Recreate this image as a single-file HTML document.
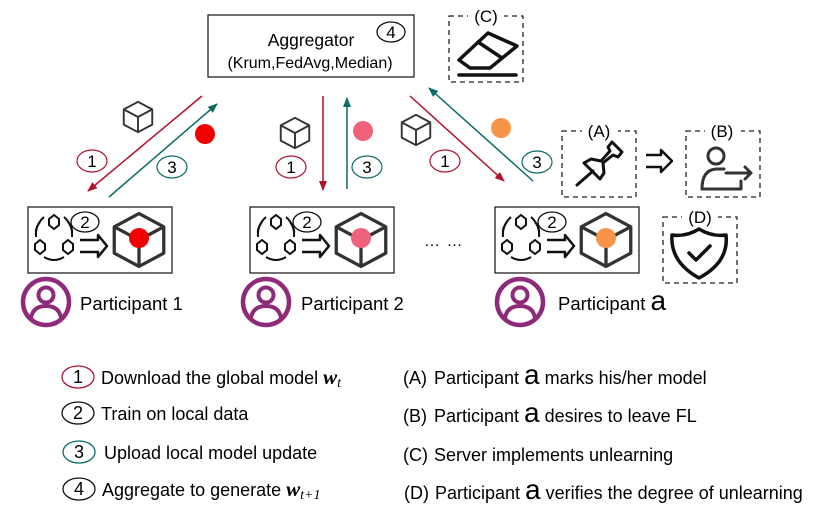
<!DOCTYPE html>
<html><head><meta charset="utf-8"><style>
html,body{margin:0;padding:0;background:#fff;}
svg{display:block;font-family:"Liberation Sans",Arial,sans-serif;}
</style></head><body>
<svg width="830" height="519" viewBox="0 0 830 519" xmlns="http://www.w3.org/2000/svg">
<defs>
<marker id="ar" markerWidth="10" markerHeight="8" refX="9" refY="4" orient="auto" markerUnits="userSpaceOnUse"><path d="M0,0 L10,4 L0,8 z" fill="#b0112d"/></marker>
<marker id="at" markerWidth="10" markerHeight="8" refX="9" refY="4" orient="auto" markerUnits="userSpaceOnUse"><path d="M0,0 L10,4 L0,8 z" fill="#0b6b66"/></marker>
<g id="cube" fill="none" stroke="#333" stroke-width="2" stroke-linejoin="round">
<path d="M0,-16 L15,-8 L15,8 L0,16 L-15,8 L-15,-8 Z M-15,-8 L0,0 L15,-8 M0,0 L0,16"/>
</g>
<g id="pbox">
<rect x="0" y="0" width="144" height="66" fill="#fff" stroke="#222" stroke-width="1.3"/>
<g fill="none" stroke="#111" stroke-width="2">
<path d="M21,12 l5,-4 l5,4 l0,6 l-5,4 l-5,-4z"/>
<path d="M7,37 l5,-4 l5,4 l0,6 l-5,4 l-5,-4z"/>
<path d="M35,37 l5,-4 l5,4 l0,6 l-5,4 l-5,-4z"/>
<path d="M16,10 Q7,18 8,30"/><path d="M12,15 Q7,21 8,27"/>
<path d="M36,10 Q45,18 44,30"/><path d="M40,15 Q45,21 44,27"/>
<path d="M16,50 Q26,56 36,50"/>
</g>
<ellipse cx="57" cy="15" rx="14" ry="10" fill="#fff" stroke="#111" stroke-width="1.3"/>
<text x="57" y="21" font-size="17" text-anchor="middle">2</text>
<path d="M52,33 L70,33 L70,28 L79,39 L70,50 L70,45 L52,45" fill="none" stroke="#111" stroke-width="2.5" stroke-linejoin="round"/>
<g transform="translate(111,33) scale(1.65)"><use href="#cube"/></g>
</g>
<g id="person">
<circle cx="0" cy="0" r="23" fill="none" stroke="#8e2a7a" stroke-width="4.5"/>
<circle cx="0" cy="-7" r="7.5" fill="none" stroke="#8e2a7a" stroke-width="4"/>
<path d="M-15,16 Q-13,4 0,4 Q13,4 15,16" fill="none" stroke="#8e2a7a" stroke-width="4"/>
</g>
</defs>

<!-- Aggregator -->
<rect x="208" y="15" width="206" height="62" fill="#fff" stroke="#222" stroke-width="1.3"/>
<text x="311" y="46" font-size="17.5" text-anchor="middle">Aggregator</text>
<text x="310" y="68" font-size="16" text-anchor="middle">(Krum,FedAvg,Median)</text>
<ellipse cx="391" cy="32" rx="14" ry="10" fill="none" stroke="#111" stroke-width="1.3"/>
<text x="391" y="38" font-size="17" text-anchor="middle">4</text>

<!-- (C) -->
<rect x="449" y="16" width="74" height="66" fill="none" stroke="#222" stroke-width="1.3" stroke-dasharray="5,4"/>
<rect x="468" y="8" width="36" height="16" fill="#fff"/>
<text x="486" y="22" font-size="17" text-anchor="middle">(C)</text>
<g fill="none" stroke="#111" stroke-width="3.5" stroke-linejoin="round" stroke-linecap="round">
<path d="M459,60 L488,33 L517,46 L490,68 L470,68 Z M478,42 L502,58"/>
<path d="M459,75 L516,75"/>
</g>

<!-- group 1 arrows -->
<line x1="202" y1="96" x2="88" y2="191" stroke="#b0112d" stroke-width="1.5" marker-end="url(#ar)"/>
<line x1="109" y1="197" x2="217" y2="104" stroke="#0b6b66" stroke-width="1.5" marker-end="url(#at)"/>
<g transform="translate(138,117) scale(0.95)"><use href="#cube"/></g>
<circle cx="205" cy="134" r="10" fill="#f20000"/>
<ellipse cx="92" cy="161" rx="15" ry="11" fill="#fff" stroke="#b0112d" stroke-width="1.2"/>
<text x="92" y="167" font-size="17" text-anchor="middle">1</text>
<ellipse cx="172" cy="167" rx="15" ry="11" fill="#fff" stroke="#0b6b66" stroke-width="1.2"/>
<text x="172" y="173" font-size="17" text-anchor="middle">3</text>

<!-- group 2 -->
<line x1="323" y1="96" x2="323" y2="190" stroke="#b0112d" stroke-width="1.5" marker-end="url(#ar)"/>
<line x1="347" y1="189" x2="347" y2="98" stroke="#0b6b66" stroke-width="1.5" marker-end="url(#at)"/>
<g transform="translate(295,133) scale(0.95)"><use href="#cube"/></g>
<circle cx="363" cy="131" r="10" fill="#f0627a"/>
<ellipse cx="291" cy="167" rx="15" ry="11" fill="#fff" stroke="#b0112d" stroke-width="1.2"/>
<text x="291" y="173" font-size="17" text-anchor="middle">1</text>
<ellipse cx="367" cy="167" rx="15" ry="11" fill="#fff" stroke="#0b6b66" stroke-width="1.2"/>
<text x="367" y="173" font-size="17" text-anchor="middle">3</text>

<!-- group 3 -->
<line x1="410" y1="96" x2="504" y2="181" stroke="#b0112d" stroke-width="1.5" marker-end="url(#ar)"/>
<line x1="533" y1="181" x2="429" y2="88" stroke="#0b6b66" stroke-width="1.5" marker-end="url(#at)"/>
<g transform="translate(416,130) scale(0.95)"><use href="#cube"/></g>
<circle cx="501" cy="128" r="10" fill="#f7944a"/>
<ellipse cx="445" cy="161" rx="15" ry="11" fill="#fff" stroke="#b0112d" stroke-width="1.2"/>
<text x="445" y="167" font-size="17" text-anchor="middle">1</text>
<ellipse cx="537" cy="162" rx="15" ry="11" fill="#fff" stroke="#0b6b66" stroke-width="1.2"/>
<text x="537" y="168" font-size="17" text-anchor="middle">3</text>

<!-- participant boxes -->
<g transform="translate(28,207)"><use href="#pbox"/></g>
<circle cx="139" cy="238" r="10" fill="#f20000"/>
<g transform="translate(250,207)"><use href="#pbox"/></g>
<circle cx="361" cy="238" r="10" fill="#f0627a"/>
<g transform="translate(495,207)"><use href="#pbox"/></g>
<circle cx="606" cy="238" r="10" fill="#f7944a"/>
<text x="424" y="246" font-size="16" letter-spacing="1">… …</text>

<!-- persons -->
<g transform="translate(46,302)"><use href="#person"/></g>
<text x="80" y="310" font-size="18.5">Participant 1</text>
<g transform="translate(266,302)"><use href="#person"/></g>
<text x="301" y="310" font-size="18.5">Participant 2</text>
<g transform="translate(520,302)"><use href="#person"/></g>
<text x="558" y="310" font-size="18.5">Participant <tspan font-size="28">a</tspan></text>

<!-- (A) -->
<rect x="562" y="131" width="74" height="66" fill="none" stroke="#222" stroke-width="1.3" stroke-dasharray="5,4"/>
<rect x="582" y="122" width="36" height="16" fill="#fff"/>
<text x="599" y="137" font-size="17" text-anchor="middle">(A)</text>
<g fill="none" stroke="#111" stroke-width="3" stroke-linejoin="round" stroke-linecap="round">
<path d="M577,185 L593,171"/>
<path d="M584,163 L600,179 L604,173 L603,163 L613,155 L618,157 L622,152 L612,142 L608,147 L610,151 L601,161 L591,159 Z"/>
</g>
<path d="M646,155 L661,155 L661,150 L672,161 L661,172 L661,167 L646,167" fill="none" stroke="#111" stroke-width="2.5" stroke-linejoin="round"/>

<!-- (B) -->
<rect x="686" y="131" width="74" height="66" fill="none" stroke="#222" stroke-width="1.3" stroke-dasharray="5,4"/>
<rect x="705" y="122" width="36" height="16" fill="#fff"/>
<text x="722" y="137" font-size="17" text-anchor="middle">(B)</text>
<g fill="none" stroke="#333" stroke-width="3" stroke-linejoin="round" stroke-linecap="round">
<circle cx="716" cy="156" r="8"/>
<path d="M702,189 Q702,170 716,169 L724,169"/>
<path d="M702,189 L741,189 L741,181"/>
<path d="M726,173 L751,173 M745,167 L751,173 L745,179"/>
</g>

<!-- (D) -->
<rect x="663" y="217" width="74" height="66" fill="none" stroke="#222" stroke-width="1.3" stroke-dasharray="5,4"/>
<rect x="682" y="208" width="36" height="16" fill="#fff"/>
<text x="700" y="223" font-size="17" text-anchor="middle">(D)</text>
<path d="M699,229 Q712,237 726,235 Q729,262 699,278 Q670,262 672,235 Q686,237 699,229 Z" fill="none" stroke="#111" stroke-width="3.5" stroke-linejoin="round"/>
<path d="M689,253 L696,260 L710,246" fill="none" stroke="#111" stroke-width="3.5" stroke-linecap="round" stroke-linejoin="round"/>

<!-- legend left -->
<g font-size="18">
<ellipse cx="78" cy="377" rx="16" ry="11" fill="none" stroke="#b0112d" stroke-width="1.3"/>
<text x="78" y="383" text-anchor="middle">1</text>
<text x="101" y="384">Download the global model <tspan font-family="Liberation Serif" font-weight="bold" font-style="italic" font-size="21">w</tspan><tspan font-family="Liberation Serif" font-style="italic" font-size="14" dy="3">t</tspan></text>
<ellipse cx="78" cy="413" rx="16" ry="11" fill="none" stroke="#111" stroke-width="1.3"/>
<text x="78" y="419" text-anchor="middle">2</text>
<text x="101" y="420">Train on local data</text>
<ellipse cx="79" cy="452" rx="16" ry="11" fill="none" stroke="#0b6b66" stroke-width="1.3"/>
<text x="79" y="458" text-anchor="middle">3</text>
<text x="104" y="459">Upload local model update</text>
<ellipse cx="79" cy="489" rx="16" ry="11" fill="none" stroke="#111" stroke-width="1.3"/>
<text x="79" y="495" text-anchor="middle">4</text>
<text x="102" y="496">Aggregate to generate <tspan font-family="Liberation Serif" font-weight="bold" font-style="italic" font-size="21">w</tspan><tspan font-family="Liberation Serif" font-style="italic" font-size="14" dy="3">t+1</tspan></text>

<!-- legend right -->
<text x="403" y="384">(A)</text>
<text x="434" y="384">Participant <tspan font-size="28">a</tspan> marks his/her model</text>
<text x="403" y="422">(B)</text>
<text x="434" y="422">Participant <tspan font-size="28">a</tspan> desires to leave  FL</text>
<text x="403" y="461">(C)</text>
<text x="434" y="461">Server implements unlearning</text>
<text x="404" y="499">(D)</text>
<text x="435" y="499">Participant <tspan font-size="28">a</tspan> verifies the degree of unlearning</text>
</g>
</svg>
</body></html>
